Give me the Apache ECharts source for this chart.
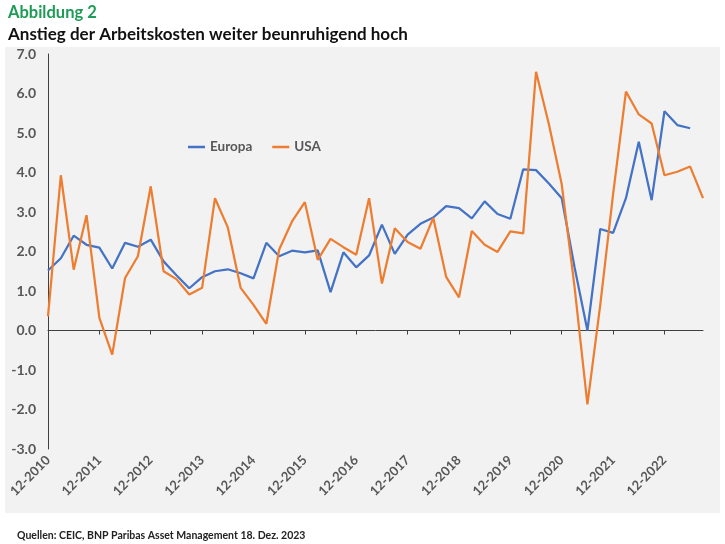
<!DOCTYPE html>
<html><head><meta charset="utf-8">
<script src="https://cdn.jsdelivr.net/npm/echarts@6/dist/echarts.min.js"></script>
<style>html,body{margin:0;padding:0;background:#fff}#c{width:725px;height:544px}</style>
</head><body><div id="c"></div>
<script>
const categories = [
  '12-2010',
  '03-2011','06-2011','09-2011','12-2011',
  '03-2012','06-2012','09-2012','12-2012',
  '03-2013','06-2013','09-2013','12-2013',
  '03-2014','06-2014','09-2014','12-2014',
  '03-2015','06-2015','09-2015','12-2015',
  '03-2016','06-2016','09-2016','12-2016',
  '03-2017','06-2017','09-2017','12-2017',
  '03-2018','06-2018','09-2018','12-2018',
  '03-2019','06-2019','09-2019','12-2019',
  '03-2020','06-2020','09-2020','12-2020',
  '03-2021','06-2021','09-2021','12-2021',
  '03-2022','06-2022','09-2022','12-2022',
  '03-2023','06-2023','09-2023'
];
const europa = [
  1.52, 1.83, 2.40, 2.17, 2.10, 1.57, 2.22, 2.12, 2.30, 1.75,
  1.40, 1.07, 1.35, 1.50, 1.55, 1.45, 1.32, 2.22, 1.88, 2.02,
  1.98, 2.03, 0.97, 1.98, 1.60, 1.90, 2.68, 1.94, 2.43, 2.70,
  2.86, 3.15, 3.10, 2.84, 3.27, 2.95, 2.83, 4.08, 4.06, 3.72,
  3.35, 1.60, 0.00, 2.57, 2.47, 3.35, 4.78, 3.30, 5.55, 5.20,
  5.12
];
const usa = [
  0.36, 3.93, 1.54, 2.92, 0.32, -0.61, 1.33, 1.88, 3.65, 1.50,
  1.30, 0.91, 1.08, 3.35, 2.61, 1.08, 0.65, 0.17, 2.05, 2.76,
  3.25, 1.79, 2.32, 2.11, 1.92, 3.35, 1.19, 2.59, 2.24, 2.07,
  2.85, 1.36, 0.84, 2.52, 2.17, 1.99, 2.51, 2.46, 6.55, 5.22,
  3.70, 1.10, -1.87, 0.65, 3.45, 6.05, 5.47, 5.24, 3.93, 4.02,
  4.15, 3.35
];
const yMin = -3, yMax = 7, yStep = 1;
const titleText = 'Abbildung 2';
const subtitleText = 'Anstieg der Arbeitskosten weiter beunruhigend hoch';
const sourceText = 'Quellen: CEIC, BNP Paribas Asset Management 18. Dez. 2023';

const chart = echarts.init(document.getElementById('c'));
const axisGrey = '#575757';
chart.setOption({
  animation: false,
  textStyle: { fontFamily: 'Lato' },
  graphic: [
    { type: 'rect', shape: { x: 5, y: 47, width: 715, height: 466 }, style: { fill: '#f2f2f2' }, z: -10, silent: true },
    { type: 'text', left: 8, top: 4, style: { text: titleText, font: 'bold 16.5px Lato', fill: '#1e9b57' } },
    { type: 'text', left: 8, top: 26, style: { text: subtitleText, font: 'bold 17px Lato', fill: '#111111' } },
    { type: 'text', left: 17, top: 530, style: { text: sourceText, font: 'bold 10.5px Lato', fill: '#222222' } }
  ],
  grid: { left: 48, right: 22, top: 54, bottom: 95 },
  legend: {
    left: 183, top: 135,
    icon: 'rect', itemWidth: 17, itemHeight: 2.5, itemGap: 20,
    textStyle: { color: axisGrey, fontWeight: 'bold', fontSize: 13.5, fontFamily: 'Lato' },
    data: ['Europa', 'USA']
  },
  xAxis: [
    {
      type: 'category', data: categories, boundaryGap: false,
      axisLine: { onZero: true, lineStyle: { color: '#404040', width: 1 } },
      axisTick: { interval: 3, length: 4, lineStyle: { color: '#404040' } },
      axisLabel: { show: false },
      splitLine: { show: false }
    },
    {
      type: 'category', data: categories, boundaryGap: false, position: 'bottom',
      axisLine: { show: false, onZero: false },
      axisTick: { show: false },
      axisLabel: { interval: 3, rotate: 45, margin: 9, color: axisGrey, fontWeight: 'bold', fontSize: 13 },
      splitLine: { show: false }
    }
  ],
  yAxis: {
    type: 'value', min: yMin, max: yMax, interval: yStep,
    axisLine: { show: true, lineStyle: { color: '#404040', width: 1 } },
    axisTick: { show: false },
    splitLine: { show: false },
    axisLabel: { formatter: v => v.toFixed(1), color: axisGrey, fontWeight: 'bold', fontSize: 14, margin: 12 }
  },
  series: [
    { name: 'Europa', type: 'line', data: europa, xAxisIndex: 0, symbol: 'none',
      lineStyle: { width: 2.25, color: '#4472c4' }, itemStyle: { color: '#4472c4' } },
    { name: 'USA', type: 'line', data: usa, xAxisIndex: 0, symbol: 'none',
      lineStyle: { width: 2.25, color: '#ed7d31' }, itemStyle: { color: '#ed7d31' } }
  ]
});
</script></body></html>
